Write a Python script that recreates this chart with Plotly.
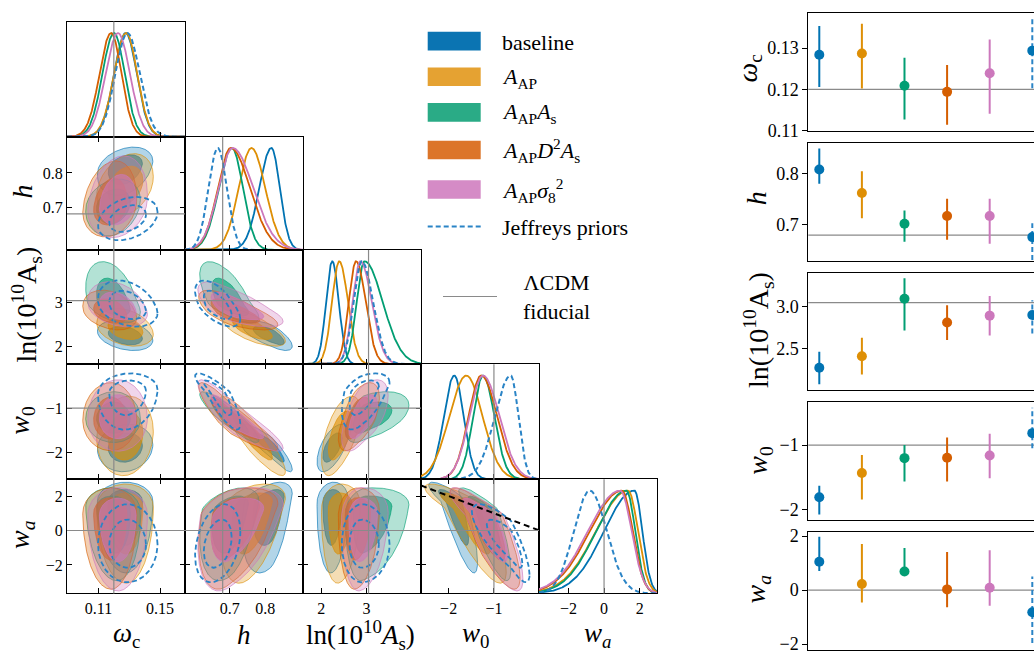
import numpy as np
import plotly.graph_objects as go

W, H = 1034, 662
FONT = "Liberation Serif"

# ---------------- data ----------------
series_names = ["baseline", "A_AP", "A_AP A_s", "A_AP D^2 A_s", "A_AP sigma8^2", "Jeffreys priors"]
line_colors = ["#0173b2", "#de8f05", "#029e73", "#d55e00", "#cc78bc"]
jeff_color = "#2a84c6"
patch_colors = ["#0b74b2", "#e5a232", "#2aab86", "#dc7529", "#d58bc6"]

fiducial = [0.12, 0.68, 3.044, -1.0, 0.0]

# corner-plot 1D marginal summaries (mode, left width, right width); last entry = Jeffreys
omc_mode = [0.1277, 0.1280, 0.1201, 0.1182, 0.1227, 0.1288]
omc_sl = [0.0075, 0.0078, 0.0075, 0.0075, 0.0080, 0.0078]
omc_sr = [0.0072, 0.0072, 0.0070, 0.0068, 0.0078, 0.0080]

h_mode = [0.817, 0.761, 0.706, 0.703, 0.708, 0.666]
h_sl = [0.034, 0.036, 0.037, 0.037, 0.040, 0.026]
h_sr = [0.024, 0.039, 0.031, 0.054, 0.058, 0.026]

as_mode = [2.245, 2.40, 2.955, 2.77, 2.865, 2.895]
as_sl = [0.137, 0.16, 0.17, 0.16, 0.17, 0.18]
as_sr = [0.144, 0.19, 0.40, 0.21, 0.25, 0.25]

w0_mode = [-1.877, -1.61, -1.24, -1.28, -1.24, -0.63]
w0_sl = [0.23, 0.375, 0.22, 0.28, 0.30, 0.35]
w0_sr = [0.21, 0.36, 0.25, 0.35, 0.36, 0.17]

wa_mode = [1.7, 1.35, 1.25, 1.0, 0.9, -0.8]
wa_sl = [1.7, 1.8, 1.7, 1.8, 1.8, 0.9]
wa_sr = [0.45, 0.55, 0.5, 0.6, 0.65, 0.95]

modes = [omc_mode, h_mode, as_mode, w0_mode, wa_mode]
sig_l = [omc_sl, h_sl, as_sl, w0_sl, wa_sl]
sig_r = [omc_sr, h_sr, as_sr, w0_sr, wa_sr]

# correlation coefficients per parameter pair (5 series + Jeffreys)
corr = {
    (0, 1): [0.3, 0.3, 0.2, 0.2, 0.2, 0.3],
    (0, 2): [-0.3, -0.3, -0.4, -0.3, -0.3, -0.3],
    (1, 2): [-0.7, -0.7, -0.7, -0.7, -0.7, -0.6],
    (0, 3): [0.1, 0.1, 0.0, 0.0, 0.0, 0.1],
    (1, 3): [-0.9, -0.9, -0.9, -0.9, -0.9, -0.85],
    (2, 3): [0.6, 0.6, 0.5, 0.6, 0.6, 0.5],
    (0, 4): [0.0, 0.0, -0.1, 0.0, 0.0, 0.0],
    (1, 4): [0.4, 0.4, 0.4, 0.4, 0.4, 0.3],
    (2, 4): [0.1, 0.1, 0.2, 0.1, 0.1, 0.0],
    (3, 4): [-0.85, -0.85, -0.85, -0.85, -0.85, -0.8],
}

# w0 + wa = 0 prior boundary
bound_w0 = [-2.61, 0.0]
bound_wa = [-v for v in bound_w0]

# right-hand summary panels: mean and 68% interval
omc_mean = [0.1284, 0.1287, 0.1209, 0.1194, 0.1239, 0.1294]
omc_lo = [0.1206, 0.1202, 0.1127, 0.1114, 0.1141, 0.1203]
omc_hi = [0.1354, 0.1359, 0.1277, 0.1259, 0.1321, 0.1372]

h_mean = [0.808, 0.762, 0.702, 0.717, 0.717, 0.676]
h_lo = [0.780, 0.713, 0.667, 0.671, 0.663, 0.600]
h_hi = [0.849, 0.8045, 0.728, 0.751, 0.751, 0.703]

as_mean = [2.273, 2.408, 3.089, 2.808, 2.889, 2.896]
as_lo = [2.077, 2.193, 2.712, 2.600, 2.654, 2.677]
as_hi = [2.462, 2.627, 3.331, 3.012, 3.120, 3.070]

w0_mean = [-1.808, -1.434, -1.202, -1.197, -1.162, -0.814]
w0_lo = [-2.076, -1.843, -1.566, -1.566, -1.515, -1.050]
w0_hi = [-1.632, -1.152, -1.000, -0.883, -0.823, -0.420]

wa_mean = [1.047, 0.227, 0.686, 0.025, 0.083, -0.820]
wa_lo = [0.71, -0.46, 0.54, -0.64, -0.58, -1.96]
wa_hi = [1.97, 1.71, 1.56, 1.41, 1.47, 0.505]

r_mean = [omc_mean, h_mean, as_mean, w0_mean, wa_mean]
r_lo = [omc_lo, h_lo, as_lo, w0_lo, wa_lo]
r_hi = [omc_hi, h_hi, as_hi, w0_hi, wa_hi]

# axis settings
corner_range = [[0.0896, 0.1662], [0.574, 0.906], [1.6, 4.2], [-2.61, -0.005], [-3.65, 2.97]]
corner_tickvals = [[0.11, 0.15], [0.7, 0.8], [2, 3], [-2, -1], [-2, 0, 2]]
corner_ticktext = [["0.11", "0.15"], ["0.7", "0.8"], ["2", "3"], ["−2", "−1"], ["−2", "0", "2"]]

right_range = [[0.11, 0.1385], [0.630, 0.859], [2.004, 3.397], [-2.162, -0.329], [-2.22, 2.14]]
right_tickvals = [[0.11, 0.12, 0.13], [0.7, 0.8], [2.5, 3.0], [-2, -1], [-2, 0, 2]]
right_ticktext = [["0.11", "0.12", "0.13"], ["0.7", "0.8"], ["2.5", "3.0"], ["−2", "−1"], ["−2", "0", "2"]]

# ---------------- layout geometry (pixels) ----------------
col_px = [67, 185, 303, 421, 539, 657]
row_px = [16, 134, 250, 367, 485, 602]
right_x = [808.3, 1034]
right_y = [[7.3, 127.7], [140.7, 261], [273.3, 394], [405.7, 526.7], [539.3, 660]]

R68 = np.sqrt(-2 * np.log(1 - 0.68))
R95 = np.sqrt(-2 * np.log(1 - 0.95))


def marginal(x, m, sl, sr):
    s = np.where(x < m, sl, sr)
    return np.exp(-0.5 * ((x - m) / s) ** 2)


def contour(i, j, s, r):
    mx, slx, srx = modes[i][s], sig_l[i][s], sig_r[i][s]
    my, sly, sry = modes[j][s], sig_l[j][s], sig_r[j][s]
    rho = corr[(i, j)][s]
    t = np.linspace(0, 2 * np.pi, 241)
    u = r * np.cos(t)
    v = r * (rho * np.cos(t) + np.sqrt(1 - rho ** 2) * np.sin(t))
    x = mx + u * np.where(u > 0, srx, slx)
    y = my + v * np.where(v > 0, sry, sly)
    return x, y


def rgba(hexc, a):
    h = hexc.lstrip("#")
    return "rgba(%d,%d,%d,%.3f)" % (int(h[0:2], 16), int(h[2:4], 16), int(h[4:6], 16), a)


fig = go.Figure()
layout = {}
shapes = []
annotations = []
axis_counter = [0]


def new_axes(px0, px1, py0, py1, xopts, yopts):
    axis_counter[0] += 1
    k = axis_counter[0]
    xs = "" if k == 1 else str(k)
    layout["xaxis" + xs] = dict(domain=[px0 / W, px1 / W], anchor="y" + xs, **xopts)
    layout["yaxis" + xs] = dict(domain=[1 - py1 / H, 1 - py0 / H], anchor="x" + xs, **yopts)
    return "x" + xs, "y" + xs


tickfont = dict(family=FONT, size=16, color="black")
rtickfont = dict(family=FONT, size=18, color="black")
base_ax = dict(showline=True, linecolor="black", linewidth=1, ticks="inside", ticklen=5,
               tickwidth=1, tickcolor="black", showgrid=False, zeroline=False, tickfont=tickfont)

GREY = "#8a8a8a"
JDASH = "5px,3px"

# ---------------- corner plot ----------------
for j in range(5):        # row
    for i in range(j + 1):  # column
        px0, px1 = col_px[i], col_px[i + 1]
        py0, py1 = row_px[j], row_px[j + 1]
        xopts = dict(base_ax, range=corner_range[i], tickvals=corner_tickvals[i],
                     ticktext=corner_ticktext[i], showticklabels=(j == 4),
                     mirror=("ticks" if i != j else True))
        if i == j:
            yopts = dict(showline=True, linecolor="black", linewidth=1, mirror=True, ticks="",
                         showticklabels=False, showgrid=False, zeroline=False, range=[0, 1.11])
        else:
            yopts = dict(base_ax, range=corner_range[j], tickvals=corner_tickvals[j],
                         ticktext=corner_ticktext[j], showticklabels=(i == 0), mirror="ticks")
        xa, ya = new_axes(px0, px1, py0, py1, xopts, yopts)

        if i == j:
            xs = np.linspace(corner_range[i][0], corner_range[i][1], 400)
            for s in range(5):
                fig.add_trace(go.Scatter(x=xs, y=marginal(xs, modes[i][s], sig_l[i][s], sig_r[i][s]),
                                         mode="lines", line=dict(color=line_colors[s], width=1.8),
                                         xaxis=xa, yaxis=ya, showlegend=False, hoverinfo="skip"))
            fig.add_trace(go.Scatter(x=xs, y=marginal(xs, modes[i][5], sig_l[i][5], sig_r[i][5]),
                                     mode="lines", line=dict(color=jeff_color, width=2, dash=JDASH),
                                     xaxis=xa, yaxis=ya, showlegend=False, hoverinfo="skip"))
        else:
            for s in range(5):
                x95, y95 = contour(i, j, s, R95)
                x68, y68 = contour(i, j, s, R68)
                fig.add_trace(go.Scatter(x=x95, y=y95, mode="lines", fill="toself",
                                         fillcolor=rgba(line_colors[s], 0.30),
                                         line=dict(color=rgba(line_colors[s], 0.7), width=0.9),
                                         xaxis=xa, yaxis=ya, showlegend=False, hoverinfo="skip"))
                fig.add_trace(go.Scatter(x=x68, y=y68, mode="lines", fill="toself",
                                         fillcolor=rgba(line_colors[s], 0.62),
                                         line=dict(color=rgba(line_colors[s], 0.7), width=0.9),
                                         xaxis=xa, yaxis=ya, showlegend=False, hoverinfo="skip"))
            for r in (R95, R68):
                xj, yj = contour(i, j, 5, r)
                fig.add_trace(go.Scatter(x=xj, y=yj, mode="lines",
                                         line=dict(color=jeff_color, width=1.8, dash=JDASH),
                                         xaxis=xa, yaxis=ya, showlegend=False, hoverinfo="skip"))
            if (i, j) == (3, 4):
                fig.add_trace(go.Scatter(x=bound_w0, y=bound_wa, mode="lines",
                                         line=dict(color="black", width=2, dash="6px,4px"),
                                         xaxis=xa, yaxis=ya, showlegend=False, hoverinfo="skip"))
            shapes.append(dict(type="line", xref=xa + " domain", yref=ya, x0=0, x1=1,
                               y0=fiducial[j], y1=fiducial[j], line=dict(color=GREY, width=1.2),
                               layer="above"))
        shapes.append(dict(type="line", xref=xa, yref=ya + " domain", x0=fiducial[i], x1=fiducial[i],
                           y0=0, y1=1, line=dict(color=GREY, width=1.2), layer="above"))

# ---------------- right summary panels ----------------
cats = list(range(6))
for p in range(5):
    xopts = dict(range=[-0.258, 5.04], showline=True, linecolor="black", linewidth=1, mirror=True,
                 ticks="", showticklabels=False, showgrid=False, zeroline=False)
    yopts = dict(range=right_range[p], tickvals=right_tickvals[p], ticktext=right_ticktext[p],
                 showline=True, linecolor="black", linewidth=1, mirror=False, ticks="outside",
                 ticklen=5, tickcolor="black", showgrid=False, zeroline=False, tickfont=rtickfont)
    xa, ya = new_axes(right_x[0], right_x[1], right_y[p][0], right_y[p][1], xopts, yopts)
    shapes.append(dict(type="line", xref=xa + " domain", yref=ya, x0=0, x1=1,
                       y0=fiducial[p], y1=fiducial[p], line=dict(color=GREY, width=1.2), layer="below"))
    for s in cats:
        c = line_colors[s] if s < 5 else jeff_color
        fig.add_trace(go.Scatter(x=[cats[s], cats[s]], y=[r_lo[p][s], r_hi[p][s]], mode="lines",
                                 line=dict(color=c, width=2, dash=(JDASH if s == 5 else "solid")),
                                 xaxis=xa, yaxis=ya, showlegend=False, hoverinfo="skip"))
        fig.add_trace(go.Scatter(x=[cats[s]], y=[r_mean[p][s]], mode="markers",
                                 marker=dict(size=10, color=(line_colors[s] if s < 5 else "#0173b2")),
                                 xaxis=xa, yaxis=ya, showlegend=False, hoverinfo="skip", cliponaxis=False))

# ---------------- axis labels ----------------
LBL = dict(family=FONT, size=28, color="black")
LBLB = dict(family=FONT, size=27, color="black")
labels_math = ["<i>ω</i><sub>c</sub>", "<i>h</i>", "ln(10<sup>10</sup><i>A</i><sub>s</sub>)",
               "<i>w</i><sub>0</sub>", "<i>w</i><sub><i>a</i></sub>"]
labels_roman = ["<i>ω</i><sub>c</sub>", "<i>h</i>", "ln(10<sup>10</sup>A<sub>s</sub>)",
                "<i>w</i><sub>0</sub>", "<i>w</i><sub><i>a</i></sub>"]
bottom_x = [126, 244, 360, 475, 597]
for i in range(5):
    annotations.append(dict(text=labels_math[i], x=bottom_x[i] / W, y=1 - 645 / H, xref="paper",
                            yref="paper", showarrow=False, font=LBLB, xanchor="center", yanchor="middle"))
left_pos = [(22, 190), (27, 306), (22, 425), (22, 542)]
for k, j in enumerate(range(1, 5)):
    x, y = left_pos[k]
    annotations.append(dict(text=labels_roman[j], x=x / W, y=1 - y / H, xref="paper", yref="paper",
                            showarrow=False, font=LBL, textangle=-90, xanchor="center", yanchor="middle"))
right_lbl_pos = [(749, 64), (756, 197), (759, 332), (760, 466), (758, 598)]
for p in range(5):
    x, y = right_lbl_pos[p]
    annotations.append(dict(text=labels_roman[p], x=x / W, y=1 - y / H, xref="paper", yref="paper",
                            showarrow=False, font=LBL, textangle=-90, xanchor="center", yanchor="middle"))

# ---------------- legend (drawn manually) ----------------
LEG = dict(family=FONT, size=22, color="black")
leg_labels = ["baseline", "<i>A</i><sub>AP</sub>", "<i>A</i><sub>AP</sub><i>A</i><sub>s</sub>",
              "<i>A</i><sub>AP</sub><i>D</i><sup>2</sup><i>A</i><sub>s</sub>",
              "<i>A</i><sub>AP</sub><i>σ</i><sub>8</sub><sup>2</sup>", "Jeffreys priors"]
leg_y = [36, 72.5, 109, 147.5, 188, 226]
for k in range(6):
    yc = leg_y[k]
    if k < 5:
        shapes.append(dict(type="rect", xref="paper", yref="paper", x0=427.7 / W, x1=480.7 / W,
                           y0=1 - (yc + 9.5) / H, y1=1 - (yc - 9.5) / H,
                           fillcolor=patch_colors[k], line=dict(width=0)))
    else:
        shapes.append(dict(type="line", xref="paper", yref="paper", x0=427.7 / W, x1=480.7 / W,
                           y0=1 - yc / H, y1=1 - yc / H, line=dict(color=jeff_color, width=2, dash=JDASH)))
    annotations.append(dict(text=leg_labels[k], x=500 / W, y=1 - (yc + 1) / H, xref="paper",
                            yref="paper", showarrow=False, font=LEG, xanchor="left", yanchor="middle"))
shapes.append(dict(type="line", xref="paper", yref="paper", x0=443 / W, x1=497 / W,
                   y0=1 - 297.7 / H, y1=1 - 297.7 / H, line=dict(color=GREY, width=1.2)))
annotations.append(dict(text="ΛCDM<br>fiducial", x=556 / W, y=1 - 298 / H, xref="paper", yref="paper",
                        showarrow=False, font=LEG, xanchor="center", yanchor="middle", align="center"))

fig.update_layout(width=W, height=H, margin=dict(l=0, r=0, t=0, b=0), paper_bgcolor="white",
                  plot_bgcolor="white", showlegend=False, shapes=shapes, annotations=annotations,
                  font=dict(family=FONT, color="black"), **layout)

fig.write_html("out.html")
